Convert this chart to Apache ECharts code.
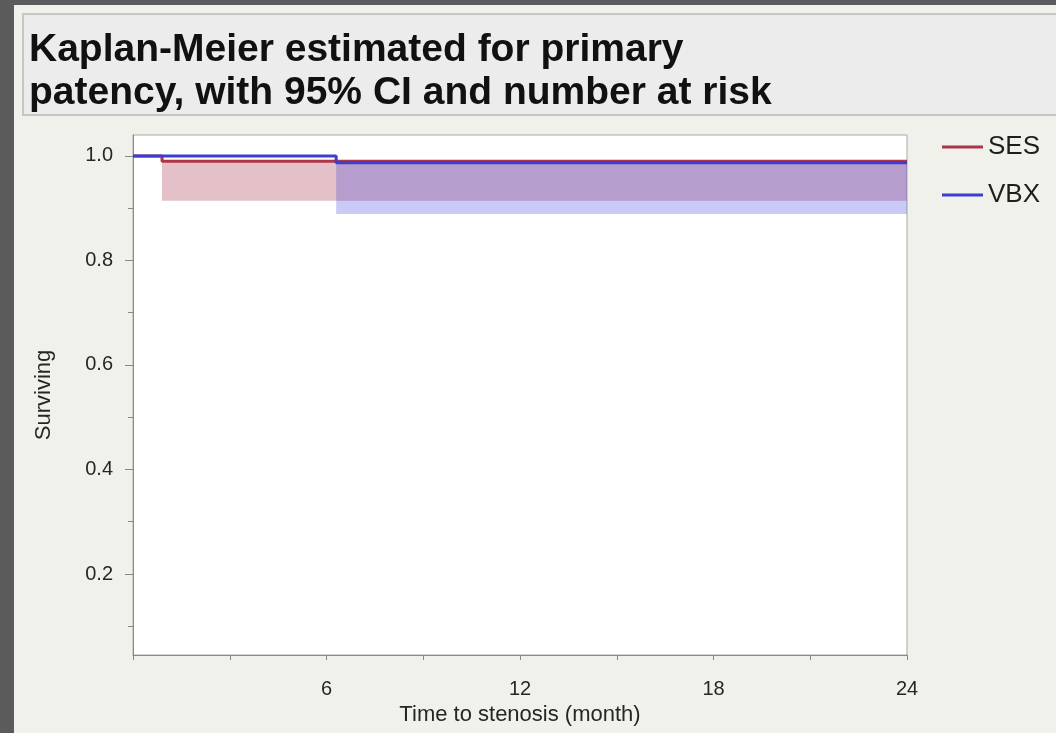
<!DOCTYPE html>
<html>
<head>
<meta charset="utf-8">
<script src="https://cdn.jsdelivr.net/npm/echarts@6/dist/echarts.min.js"></script>
<style>
  html, body { margin: 0; padding: 0; background: #5b5b5b; }
  #chart { width: 1056px; height: 733px; }
</style>
</head>
<body>
<div id="chart"></div>
<script>
// Kaplan-Meier step estimates (months) with lower 95% CI bound
const sesTime  = [0, 0.9, 24];
const sesSurv  = [1.0, 0.990, 0.990];
const sesLower = [1.0, 0.914, 0.914];

const vbxTime  = [0, 6.3, 24];
const vbxSurv  = [1.0, 0.987, 0.987];
const vbxLower = [1.0, 0.889, 0.889];

const groupNames = ['SES', 'VBX'];
const xTickValues = [0, 3, 6, 9, 12, 15, 18, 21, 24];
const xLabelValues = [6, 12, 18, 24];
const yMajorValues = [0.2, 0.4, 0.6, 0.8, 1.0];
const yMinorValues = [0.1, 0.3, 0.5, 0.7, 0.9];

const FONT = "'Liberation Sans', Arial, Helvetica, sans-serif";
const RED = '#ad3449';
const BLUE = '#3a3fd0';

function pairs(t, v) { return t.map((x, i) => [x, v[i]]); }

// one rectangle per step interval: [tStart, tEnd, lower, upper]
function bandSegments(t, lo, hi) {
  const out = [];
  for (let i = 0; i < t.length - 1; i++) {
    if (hi[i] > lo[i]) out.push([t[i], t[i + 1], lo[i], hi[i]]);
  }
  return out;
}

function bandItem(fill) {
  return function (params, api) {
    const p0 = api.coord([api.value(0), api.value(3)]);
    const p1 = api.coord([api.value(1), api.value(2)]);
    return {
      type: 'rect',
      shape: { x: p0[0], y: p0[1], width: p1[0] - p0[0], height: p1[1] - p0[1] },
      style: { fill: fill }
    };
  };
}

const chart = echarts.init(document.getElementById('chart'), null, { renderer: 'canvas' });

const yBase = {
  type: 'value', min: 0.045, max: 1.04,
  axisLine: { show: true, lineStyle: { color: '#8a8a8a', width: 1 } },
  splitLine: { show: false }
};

chart.setOption({
  backgroundColor: '#5b5b5b',
  animation: false,
  graphic: [
    { type: 'rect', z: -20, shape: { x: 14, y: 5, width: 1050, height: 740 },
      style: { fill: '#f1f1ec' } },
    { type: 'rect', z: -19, shape: { x: 23, y: 14, width: 1050, height: 101 },
      style: { fill: '#ececec', stroke: '#c6c6c6', lineWidth: 2 } }
  ],
  title: {
    text: 'Kaplan-Meier estimated for primary\npatency, with 95% CI and number at risk',
    left: 24, top: 24,
    textStyle: { fontFamily: FONT, fontSize: 39, fontWeight: 'bold', color: '#111', lineHeight: 43 }
  },
  legend: {
    orient: 'vertical', left: 937, top: 128, itemGap: 20,
    icon: 'rect', itemWidth: 41, itemHeight: 3,
    data: groupNames,
    textStyle: { fontFamily: FONT, fontSize: 26, color: '#1e1e1e', lineHeight: 28 }
  },
  grid: {
    left: 133, right: 149, top: 135, bottom: 78,
    show: true, backgroundColor: '#ffffff', borderColor: '#a8a8a8', borderWidth: 1
  },
  xAxis: {
    type: 'value', min: 0, max: 24,
    name: 'Time to stenosis (month)', nameLocation: 'middle', nameGap: 48,
    nameTextStyle: { fontFamily: FONT, fontSize: 22, color: '#262626' },
    axisLine: { show: true, lineStyle: { color: '#8a8a8a', width: 1 } },
    axisTick: { show: true, length: 5, customValues: xTickValues, lineStyle: { color: '#888' } },
    axisLabel: { customValues: xLabelValues, margin: 24, fontFamily: FONT, fontSize: 20, color: '#262626' },
    splitLine: { show: false }
  },
  yAxis: [
    Object.assign({}, yBase, {
      name: 'Surviving', nameLocation: 'middle', nameGap: 78,
      nameTextStyle: { fontFamily: FONT, fontSize: 22, color: '#262626' },
      axisTick: { show: true, length: 8, customValues: yMajorValues, lineStyle: { color: '#888' } },
      axisLabel: { customValues: yMajorValues, margin: 20, fontFamily: FONT, fontSize: 20, color: '#262626',
                   formatter: v => v.toFixed(1) }
    }),
    Object.assign({}, yBase, {
      position: 'left',
      axisTick: { show: true, length: 5, customValues: yMinorValues, lineStyle: { color: '#888' } },
      axisLabel: { show: false }
    })
  ],
  series: [
    // 95% confidence bands
    { name: 'sesBand', type: 'custom', silent: true, z: 1,
      renderItem: bandItem('rgba(172,60,85,0.32)'),
      encode: { x: [0, 1], y: [2, 3] },
      data: bandSegments(sesTime, sesLower, sesSurv) },
    { name: 'vbxBand', type: 'custom', silent: true, z: 2,
      renderItem: bandItem('rgba(60,70,222,0.28)'),
      encode: { x: [0, 1], y: [2, 3] },
      data: bandSegments(vbxTime, vbxLower, vbxSurv) },
    // survival step curves
    { name: 'SES', type: 'line', step: 'end', symbol: 'none', color: RED,
      lineStyle: { color: RED, width: 3 }, data: pairs(sesTime, sesSurv), z: 3 },
    { name: 'VBX', type: 'line', step: 'end', symbol: 'none', color: BLUE,
      lineStyle: { color: BLUE, width: 3 }, data: pairs(vbxTime, vbxSurv), z: 4 }
  ]
});
</script>
</body>
</html>
